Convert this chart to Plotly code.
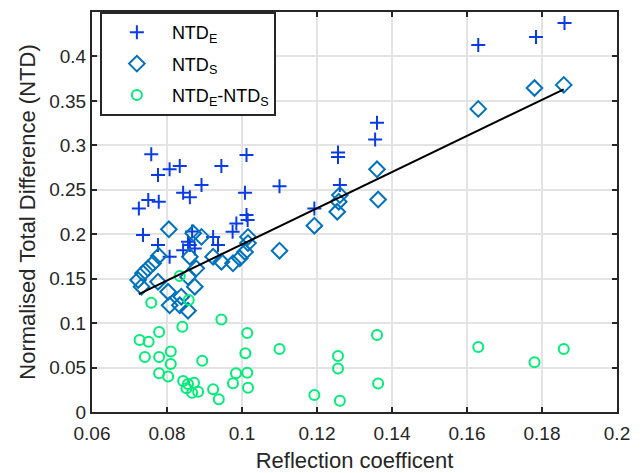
import plotly.graph_objects as go

# ---- data ----
x_e = [0.0758, 0.0776, 0.0807, 0.0725, 0.0750, 0.0778, 0.0736, 0.0776, 0.0807,
       0.0834, 0.0945, 0.1012, 0.0892, 0.0843, 0.0861, 0.1008, 0.1012, 0.1015,
       0.0985, 0.0975, 0.0923, 0.0936, 0.0867, 0.0856, 0.0843, 0.0874, 0.0861,
       0.1100, 0.1193, 0.1256, 0.1256, 0.1261, 0.1360, 0.1355, 0.1630, 0.1784, 0.1860]
ntd_e = [0.290, 0.2666, 0.273, 0.229, 0.2385, 0.2366, 0.199, 0.188, 0.1747,
         0.2767, 0.2767, 0.289, 0.2553, 0.2467, 0.2415, 0.2467, 0.2216, 0.216,
         0.212, 0.2028, 0.197, 0.188, 0.203, 0.1916, 0.182, 0.184, 0.188,
         0.254, 0.229, 0.292, 0.287, 0.2553, 0.3254, 0.3067, 0.413, 0.4218, 0.4376]

x_s = [0.0805, 0.0723, 0.0736, 0.0749, 0.0763, 0.0778, 0.0732, 0.0776, 0.0803,
       0.0807, 0.0892, 0.0870, 0.0861, 0.0878, 0.0856, 0.0874, 0.0838, 0.0834,
       0.0923, 0.0945, 0.0976, 0.0994, 0.1008, 0.1016, 0.1016, 0.0856,
       0.1100, 0.1193, 0.1261, 0.1258, 0.1254, 0.1360, 0.1363, 0.1630, 0.1780, 0.1858]
ntd_s = [0.2055, 0.1485, 0.156, 0.1616, 0.1673, 0.1755, 0.141, 0.1466, 0.1353,
         0.120, 0.197, 0.201, 0.1747, 0.1616, 0.152, 0.141, 0.1297, 0.120,
         0.1747, 0.169, 0.1673, 0.173, 0.180, 0.197, 0.19, 0.114,
         0.1815, 0.2096, 0.244, 0.2366, 0.2253, 0.273, 0.239, 0.341, 0.3645, 0.368]

x_d = [0.0758, 0.0858, 0.0945, 0.0841, 0.0779, 0.0727, 0.0751, 0.1014, 0.0741,
       0.0779, 0.0810, 0.0810, 0.0894, 0.1009, 0.0779, 0.0803, 0.0843, 0.0856,
       0.0872, 0.0852, 0.0867, 0.0883, 0.0923, 0.0938, 0.0984, 0.0976, 0.1014,
       0.1016, 0.0834, 0.1100, 0.1193, 0.1256, 0.1256, 0.1261, 0.1360, 0.1363,
       0.1630, 0.1780, 0.1858]
ntd_d = [0.123, 0.126, 0.104, 0.096, 0.090, 0.081, 0.079, 0.089, 0.062,
         0.062, 0.068, 0.054, 0.0577, 0.066, 0.0435, 0.040, 0.035, 0.0315,
         0.033, 0.0266, 0.0217, 0.0229, 0.0255, 0.0143, 0.0435, 0.0323, 0.0442,
         0.0273, 0.153, 0.071, 0.019, 0.063, 0.049, 0.0127, 0.0866, 0.032,
         0.073, 0.056, 0.071]

# trend line end points
trend_x = [0.0725, 0.1858]
trend_y = [0.1327, 0.363]

x_ticks = [0.06, 0.08, 0.1, 0.12, 0.14, 0.16, 0.18, 0.2]
x_ticktext = ["0.06", "0.08", "0.1", "0.12", "0.14", "0.16", "0.18", "0.2"]
y_ticks = [0, 0.05, 0.1, 0.15, 0.2, 0.25, 0.3, 0.35, 0.4]
y_ticktext = ["0", "0.05", "0.1", "0.15", "0.2", "0.25", "0.3", "0.35", "0.4"]

FONT = "Liberation Sans, Arial, sans-serif"
C_E = "#0A3CE6"
C_S = "#0072BD"
C_D = "#00EE78"
DARK = "#262626"

fig = go.Figure()
fig.add_trace(go.Scatter(x=x_e, y=ntd_e, mode="markers", name="NTD<sub>E</sub>", legendgroup="e",
                         marker=dict(symbol="cross-thin-open", size=10, color=C_E,
                                     line=dict(width=2, color=C_E))))
fig.add_trace(go.Scatter(x=x_s, y=ntd_s, mode="markers", name="NTD<sub>S</sub>", legendgroup="s",
                         marker=dict(symbol="diamond-open", size=12, color=C_S,
                                     line=dict(width=2, color=C_S))))
fig.add_trace(go.Scatter(x=x_d, y=ntd_d, mode="markers", name="NTD<sub>E</sub>-NTD<sub>S</sub>",
                         legendgroup="d",
                         marker=dict(symbol="circle-open", size=10, color=C_D,
                                     line=dict(width=2, color=C_D))))
fig.add_trace(go.Scatter(x=trend_x, y=trend_y, mode="lines", showlegend=False,
                         line=dict(color="black", width=2)))

axis_common = dict(showgrid=True, gridcolor="#E3E3E3", gridwidth=2,
                   showline=True, linecolor=DARK, linewidth=2, mirror="ticks",
                   ticks="inside", ticklen=5, tickwidth=2, tickcolor=DARK,
                   zeroline=False, automargin=False,
                   tickfont=dict(family=FONT, size=19, color=DARK))

fig.update_layout(
    width=643, height=473,
    margin=dict(l=92, r=26, t=12, b=61),
    paper_bgcolor="white", plot_bgcolor="white",
    font=dict(family=FONT, color=DARK),
    xaxis=dict(range=[0.06, 0.2], tickvals=x_ticks, ticktext=x_ticktext,
               ticklabelstandoff=3,
               title=dict(text="Reflection coefficent", font=dict(family=FONT, size=22), standoff=10),
               **axis_common),
    yaxis=dict(range=[0, 0.45], tickvals=y_ticks, ticktext=y_ticktext,
               title=dict(text="Normalised Total Difference (NTD)", font=dict(family=FONT, size=22), standoff=8),
               **axis_common),
    legend=dict(x=0.015, y=1, xanchor="left", yanchor="top",
                bgcolor="white", bordercolor=DARK, borderwidth=2,
                font=dict(family=FONT, size=18, color="black"),
                itemwidth=60, tracegroupgap=5),
)

fig.write_html("out.html")
